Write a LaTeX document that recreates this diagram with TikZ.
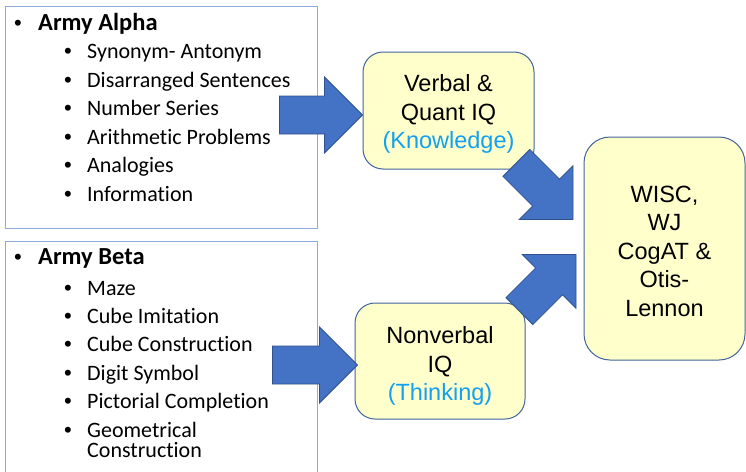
\documentclass[tikz,border=0pt]{standalone}
\usepackage{fontspec}
\setmainfont{Carlito}[Ligatures=NoCommon]
\newfontfamily\arialfont{Liberation Sans}
\usepackage{xcolor}
\usetikzlibrary{calc}

\definecolor{arrowblue}{RGB}{68,114,196}
\definecolor{arrowedge}{RGB}{47,82,143}
\definecolor{boxfill}{RGB}{255,255,204}
\definecolor{boxedge}{RGB}{65,100,155}
\definecolor{listedge}{RGB}{143,170,220}
\definecolor{hintblue}{RGB}{18,160,240}

\tikzset{
	iqbox/.style={draw=boxedge, line width=1pt, fill=boxfill, rounded corners=20pt, inner sep=0pt},
	iqtext/.style={align=center, inner sep=0pt, font=\arialfont\fontsize{23.5}{28.5}\selectfont},
	arrowbody/.style={fill=arrowblue, draw=arrowedge, line width=0.8pt, line join=miter},
	listhead/.style={anchor=base west, inner sep=0pt, font=\bfseries\fontsize{24.5}{29}\selectfont},
	listitem/.style={anchor=base west, inner sep=0pt, font=\fontsize{22}{26}\selectfont},
	listdot/.style={anchor=base, inner sep=0pt, font=\arialfont\fontsize{22}{26}\selectfont},
}

% block arrow from a tail point to a tip point
\def\shaftw{19pt}
\def\headw{38pt}
\def\headlen{38pt}
\newcommand{\blockarrow}[2]{%
	\coordinate (hb) at ($(#2)!\headlen!(#1)$);
	\filldraw[arrowbody] ($(#1)!\shaftw!90:(#2)$) -- ($(hb)!\shaftw!-90:(#1)$) -- ($(hb)!\headw!-90:(#1)$)
		-- (#2) -- ($(hb)!\headw!90:(#1)$) -- ($(hb)!\shaftw!90:(#1)$) -- ($(#1)!\shaftw!-90:(#2)$) -- cycle;
}

\begin{document}
\begin{tikzpicture}[x=1pt, y=-1pt]
			\useasboundingbox (0,0) rectangle (746,471);

			% lists
			\begin{scope}[line width=0.8pt, listedge]
				\draw (5,6) rectangle (317,228);
				\draw (5,475) |- (317,241) -- (317,475);
			\end{scope}

			\node[listdot] at (18,30) {•};
			\node[listhead] (alpha) at (38,30) {Army Alpha};
			\foreach \txt [count=\i from 0] in {Synonym- Antonym, Disarranged Sentences, Number Series, Arithmetic Problems, Analogies, Information} {
				\node[listdot] at (68,58.5+28.5*\i) {•};
				\node[listitem] (alpha\i) at (87,58.5+28.5*\i) {\txt};
			}

			\node[listdot] at (18,264) {•};
			\node[listhead] (beta) at (38,264) {Army Beta};
			\foreach \txt [count=\i from 0] in {Maze, Cube Imitation, Cube Construction, Digit Symbol, Pictorial Completion, Geometrical} {
				\node[listdot] at (68,295+28.4*\i) {•};
				\node[listitem] (beta\i) at (87,295+28.4*\i) {\txt};
			}
			\node[listitem] (beta6) at (87,457.7) {Construction};

			% IQ boxes
			\node[iqbox, minimum width=171pt, minimum height=117pt] (verbal) at (448.5,110.5) {};
			\node[iqtext] (verbaltext) at ([yshift=-3.5pt]verbal.center)
				{Verbal \&\\Quant IQ\\\textcolor{hintblue}{(Knowledge)}};
			\node[iqbox, minimum width=170pt, minimum height=116pt] (nonverbal) at (440,361) {};
			\node[iqtext] (nonverbaltext) at ([yshift=-5pt]nonverbal.center)
				{Nonverbal\\IQ\\\textcolor{hintblue}{(Thinking)}};
			\node[iqbox, rounded corners=26pt, minimum width=161pt, minimum height=223pt] (tests) at (664.5,248.5) {};
			\node[iqtext] (teststext) at ([yshift=-2.5pt]tests.center)
				{WISC,\\WJ\\CogAT \&\\Otis-\\Lennon};

			% arrows
			\coordinate (alphatip) at ([yshift=-4.5pt]verbal.west);
			\coordinate (alphatail) at ([xshift=-83pt]alphatip);
			\coordinate (betatip) at ([xshift=3pt, yshift=-4pt]nonverbal.west);
			\coordinate (betatail) at ([xshift=-85pt]betatip);
			\coordinate (verbaltip) at ($(tests.west)+(-10.5,-29)$);
			\coordinate (verbaltail) at ($(verbaltip)+(-56.6,-56.6)$);
			\coordinate (nonverbaltip) at ($(tests.west)+(-7.5,6)$);
			\coordinate (nonverbaltail) at ($(nonverbaltip)+(-56.6,56.6)$);

			\blockarrow{alphatail}{alphatip}
			\blockarrow{betatail}{betatip}
			\blockarrow{verbaltail}{verbaltip}
			\blockarrow{nonverbaltail}{nonverbaltip}
		\end{tikzpicture}
\end{document}
